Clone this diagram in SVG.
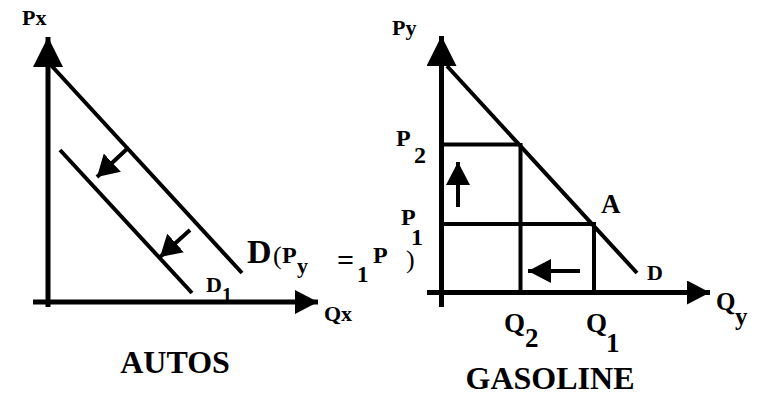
<svg xmlns="http://www.w3.org/2000/svg" width="759" height="395" viewBox="0 0 759 395" font-family="Liberation Serif, Times New Roman, Tinos, Noto Serif, DejaVu Serif, serif">
<style>
.ax{stroke:#000;stroke-width:5;fill:none}
.ln{stroke:#000;stroke-width:4;fill:none}
.t{font-family:"Liberation Serif","Times New Roman",Tinos,"Noto Serif","DejaVu Serif",serif;font-weight:700;fill:#000}
.n{font-family:"Liberation Serif","Times New Roman",Tinos,"Noto Serif","DejaVu Serif",serif;font-weight:400;fill:#000}
</style>
<defs>
<marker id="av" markerUnits="userSpaceOnUse" markerWidth="30" markerHeight="30" refX="30" refY="15" orient="auto" viewBox="0 0 30 30"><path d="M0,0L30,15L0,30z" fill="#000"/></marker>
<marker id="ah" markerUnits="userSpaceOnUse" markerWidth="23" markerHeight="24" refX="23" refY="12" orient="auto" viewBox="0 0 23 24"><path d="M0,0L23,12L0,24z" fill="#000"/></marker>
<marker id="sm" markerUnits="userSpaceOnUse" markerWidth="21" markerHeight="25" refX="21" refY="12.5" orient="auto" viewBox="0 0 21 25"><path d="M0,0L21,12.5L0,25z" fill="#000"/></marker>
</defs>
<g id="autos-axes">
<line class="ax" x1="48" y1="307" x2="48" y2="37" marker-end="url(#av)"/>
<line class="ax" x1="33" y1="302" x2="318" y2="302" marker-end="url(#ah)"/>
<text class="t" x="22" y="25" font-size="22">Px</text>
<text class="t" x="324" y="321" font-size="22">Qx</text>
</g>
<g id="autos-demand-D">
<line class="ln" x1="49" y1="63" x2="242" y2="273"/>
<text class="t" x="247" y="263" font-size="34">D</text>
<text class="n" x="273" y="264" font-size="26">(</text>
<text class="t" x="282" y="263" font-size="24">P</text>
<text class="t" x="297" y="273" font-size="22">y</text>
<text class="t" x="337" y="270" font-size="30">=</text>
<text class="t" x="357" y="282" font-size="23">1</text>
<text class="t" x="373" y="263" font-size="24">P</text>
<text class="n" x="406" y="268" font-size="26">)</text>
</g>
<g id="autos-demand-D1">
<line class="ln" x1="60" y1="150" x2="192" y2="293"/>
<text class="t" x="206" y="292" font-size="22">D</text>
<text class="t" x="222" y="302" font-size="20">1</text>
</g>
<g id="connectors">
<line class="ln" x1="128" y1="148" x2="97" y2="177" marker-end="url(#sm)"/>
<line class="ln" x1="190" y1="230" x2="160" y2="257" marker-end="url(#sm)"/>
<line class="ln" x1="458" y1="207" x2="458" y2="162" marker-end="url(#ah)"/>
<line class="ln" x1="580" y1="271" x2="528" y2="271" marker-end="url(#ah)"/>
</g>
<g id="autos-title">
<text class="t" x="175" y="373" font-size="32" text-anchor="middle">AUTOS</text>
</g>
<g id="gasoline-axes">
<line class="ax" x1="441.5" y1="307" x2="441.5" y2="36" marker-end="url(#av)"/>
<line class="ax" x1="427" y1="292.5" x2="710" y2="292.5" marker-end="url(#ah)"/>
<text class="t" x="392" y="35" font-size="22">Py</text>
<text class="t" x="716" y="310" font-size="25">Q</text>
<text class="t" x="735" y="325" font-size="25">y</text>
</g>
<g id="gasoline-demand">
<line class="ln" x1="447" y1="66" x2="637" y2="273"/>
<text class="t" x="647" y="280" font-size="22">D</text>
</g>
<g id="point-A">
<text class="t" x="601" y="213" font-size="27">A</text>
</g>
<g id="P2-level">
<line class="ln" x1="441" y1="144.5" x2="519" y2="144.5"/>
<line class="ln" x1="520.5" y1="143" x2="520.5" y2="293"/>
<text class="t" x="396" y="146" font-size="24">P</text>
<text class="t" x="414" y="163" font-size="24">2</text>
</g>
<g id="P1-level">
<line class="ln" x1="441" y1="224" x2="593" y2="224"/>
<line class="ln" x1="594" y1="222" x2="594" y2="293"/>
<text class="t" x="401" y="225" font-size="24">P</text>
<text class="t" x="411" y="245" font-size="24">1</text>
</g>
<g id="Q-labels">
<text class="t" x="504" y="332" font-size="27">Q</text>
<text class="t" x="525" y="347" font-size="27">2</text>
<text class="t" x="586" y="332" font-size="27">Q</text>
<text class="t" x="606" y="352" font-size="27">1</text>
</g>
<g id="gasoline-title">
<text class="t" x="550" y="389" font-size="32" text-anchor="middle">GASOLINE</text>
</g>
</svg>
